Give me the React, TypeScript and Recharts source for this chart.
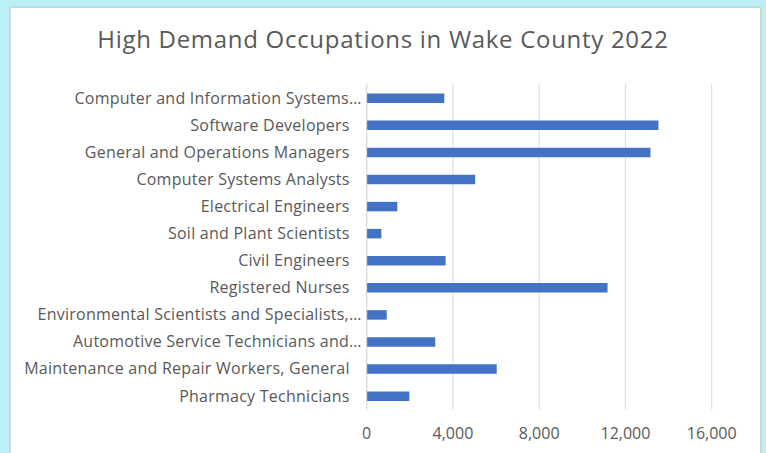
import React from "react";
import { BarChart, Bar, XAxis, YAxis, CartesianGrid } from "recharts";

const categories = [
  "Computer and Information Systems…",
  "Software Developers",
  "General and Operations Managers",
  "Computer Systems Analysts",
  "Electrical Engineers",
  "Soil and Plant Scientists",
  "Civil Engineers",
  "Registered Nurses",
  "Environmental Scientists and Specialists,…",
  "Automotive Service Technicians and…",
  "Maintenance and Repair Workers, General",
  "Pharmacy Technicians",
];

const jobs = [3600, 13530, 13160, 5030, 1420, 680, 3660, 11170, 930, 3180, 6030, 1980];

const xTicks = [0, 4000, 8000, 12000, 16000];

const title = "High Demand Occupations in Wake County 2022";

const data = categories.map((name, i) => ({ name, value: jobs[i] }));

const FONT = "'Open Sans', 'Noto Sans', sans-serif";
const TEXT = "#595959";

const YTick = (props: any) => {
  const { x, y, payload } = props;
  const label: string = payload.value;
  const truncated = label.endsWith("…");
  return (
    <text
      x={x - (truncated ? 5 : 17)}
      y={y}
      dy="0.35em"
      textAnchor="end"
      fill={TEXT}
      fontSize={16}
      letterSpacing={0.25}
      fontFamily={FONT}
    >
      {label}
    </text>
  );
};

export default function App() {
  return (
    <div
      style={{
        position: "absolute",
        left: 0,
        top: 0,
        width: 766,
        height: 453,
        background: "#bdeff6",
        overflow: "hidden",
      }}
    >
      <div
        style={{
          position: "absolute",
          left: 10,
          top: 7,
          width: 749,
          height: 460,
          background: "#ffffff",
          border: "1px solid #d4d4d4",
          boxShadow: "0 0 2px rgba(0,0,0,0.15)",
        }}
      />
      <div
        style={{
          position: "absolute",
          left: 0,
          top: 23,
          width: 766,
          textAlign: "center",
          fontFamily: FONT,
          fontSize: 24,
          letterSpacing: 0.7,
          color: TEXT,
          lineHeight: "32px",
        }}
      >
        {title}
      </div>
      <div style={{ position: "absolute", left: 0, top: 0 }}>
        <BarChart
          width={766}
          height={453}
          data={data}
          layout="vertical"
          margin={{ top: 84.5, right: 54.3, bottom: 13.5, left: 0 }}
        >
          <CartesianGrid horizontal={false} vertical={true} stroke="#d9d9d9" />
          <XAxis
            type="number"
            domain={[0, 16000]}
            ticks={xTicks}
            tickFormatter={(v: number) => v.toLocaleString("en-US")}
            axisLine={false}
            tickLine={false}
            tickMargin={12}
            height={30}
            tick={{ fill: TEXT, fontSize: 16, fontFamily: FONT }}
            interval={0}
          />
          <YAxis
            type="category"
            dataKey="name"
            width={366.7}
            axisLine={{ stroke: "#d9d9d9" }}
            tickLine={false}
            tickSize={0}
            tickMargin={0}
            interval={0}
            tick={<YTick />}
          />
          <Bar dataKey="value" fill="#4472C4" barSize={9.5} isAnimationActive={false} />
        </BarChart>
      </div>
    </div>
  );
}
